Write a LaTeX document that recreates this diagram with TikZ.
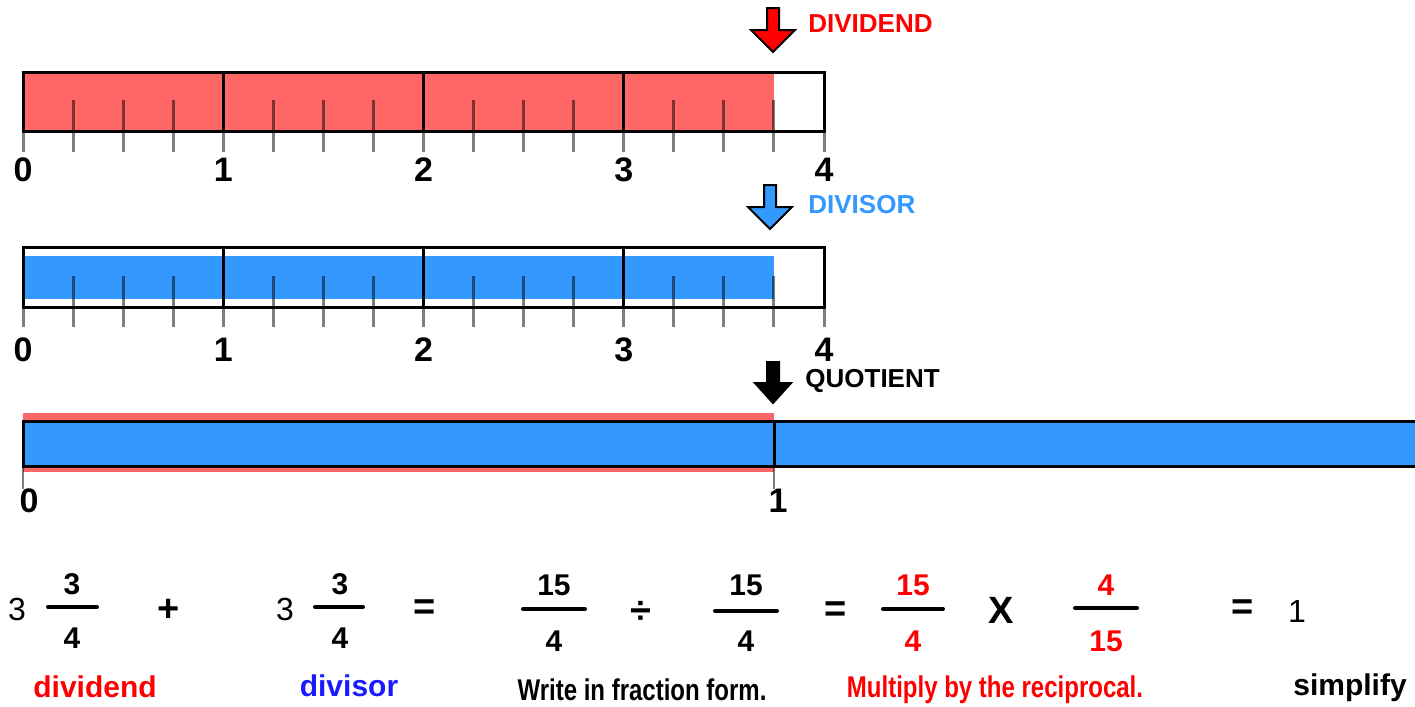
\documentclass[tikz,border=0pt]{standalone}
\usepackage{fontspec}
\setmainfont{Liberation Sans}
\newfontfamily\narrowsf[FakeStretch=0.8]{Liberation Sans}
\usepackage{tikz}
\definecolor{barred}{HTML}{FF6666}
\definecolor{barblue}{HTML}{3399FF}
\definecolor{txtred}{HTML}{FF0000}
\definecolor{txtblue}{HTML}{1A1AFF}

\begin{document}
\begin{tikzpicture}[x=0.5pt, y=-0.5pt,
  every node/.style={inner sep=0pt, font=\bfseries\fontsize{17}{19}\selectfont},
  barline/.style={line width=1.5pt},
  tickline/.style={draw=black, draw opacity=0.5, line width=1.5pt},
  blockarrow/.style={draw=black, line width=1pt},
  fracbar/.style={line width=2pt, line cap=round},
  opfont/.style={font=\bfseries\fontsize{19}{21}\selectfont},
  fracfont/.style={font=\bfseries\fontsize{15}{17}\selectfont},
  plainfont/.style={font=\fontsize{16}{18}\selectfont},
  notefont/.style={font=\bfseries\fontsize{15}{17}\selectfont},
  narrowfont/.style={font=\narrowsf\bfseries\fontsize{15}{17}\selectfont},
  headfont/.style={font=\bfseries\fontsize{13}{15}\selectfont}]
\useasboundingbox (0,0) rectangle (1415,707);

% dividend bar
\filldraw[blockarrow, fill=red] (773,8) ++(-6,0) -- ++(12,0) -- ++(0,22) -- ++(16,0) -- ++(-22,22) -- ++(-22,-22) -- ++(16,0) -- cycle;
\node[headfont, text=txtred, anchor=west] (hdividend) at (808,24) {DIVIDEND};
\fill[barred] (23,72) rectangle (774,131);
\foreach \i in {0,...,16} \draw[tickline] ({23+50.0625*\i},100) -- ({23+50.0625*\i},152);
\draw[barline] (23,72) rectangle (824,131);
\foreach \k in {1,2,3} \draw[barline] ({23+200.25*\k},72) -- ({23+200.25*\k},131);
\foreach \k in {0,...,4} \node (da\k) at ({23+200.25*\k},170) {\k};

% divisor bar
\filldraw[blockarrow, fill=barblue] (770,185) ++(-6,0) -- ++(12,0) -- ++(0,22) -- ++(16,0) -- ++(-22,22) -- ++(-22,-22) -- ++(16,0) -- cycle;
\node[headfont, text=barblue, anchor=west] (hdivisor) at (808,205) {DIVISOR};
\fill[barblue] (23,256) rectangle (774,299);
\foreach \i in {0,...,16} \draw[tickline] ({23+50.0625*\i},276) -- ({23+50.0625*\i},327);
\draw[barline] (23,247) rectangle (824,307);
\foreach \k in {1,2,3} \draw[barline] ({23+200.25*\k},247) -- ({23+200.25*\k},307);
\foreach \k in {0,...,4} \node (db\k) at ({23+200.25*\k},350) {\k};

% quotient bar
\filldraw[blockarrow, fill=black] (773,362) ++(-6,0) -- ++(12,0) -- ++(0,21) -- ++(12,0) -- ++(-18,20) -- ++(-18,-20) -- ++(12,0) -- cycle;
\node[headfont, anchor=west] (hquotient) at (805,381) {QUOTIENT};
\fill[barred] (23,413) rectangle (774,472);
\filldraw[barline, fill=barblue] (23,421) rectangle (1418,466);
\draw[barline] (774,421) -- (774,466);
\draw[tickline, line width=1pt] (23,466) -- (23,489);
\draw[tickline, line width=1pt] (774,466) -- (774,489);
\node (dq0) at (29,501) {0};
\node (dq1) at (778,501) {1};

% equation
\node[plainfont] (whA) at (17,609) {3};
\node[fracfont] (nA) at (72,584) {3};
\draw[fracbar] (48,607) -- (97,607);
\node[fracfont] (dA) at (72,638) {4};
\node[opfont] (plus) at (169,610) {+};
\node[plainfont] (whB) at (285,609) {3};
\node[fracfont] (nB) at (340,584) {3};
\draw[fracbar] (315,607) -- (363,607);
\node[fracfont] (dB) at (340,638) {4};
\node[opfont] (eqA) at (425,610) {=};
\node[fracfont] (nC) at (554,585) {15};
\draw[fracbar] (523,609) -- (585,609);
\node[fracfont] (dC) at (554,641) {4};
\node[opfont] (divide) at (641,612) {÷};
\node[fracfont] (nD) at (746,585) {15};
\draw[fracbar] (715,611) -- (777,611);
\node[fracfont] (dD) at (746,641) {4};
\node[opfont] (eqB) at (836,612) {=};
\node[fracfont, text=txtred] (nE) at (913,585) {15};
\draw[fracbar] (883,609) -- (943,609);
\node[fracfont, text=txtred] (dE) at (913,641) {4};
\node[opfont] (times) at (1001,610) {X};
\node[fracfont, text=txtred] (nF) at (1106,585) {4};
\draw[fracbar] (1075,608) -- (1137,608);
\node[fracfont, text=txtred] (dF) at (1106,641) {15};
\node[opfont] (eqC) at (1243,610) {=};
\node[plainfont] (result) at (1297,611) {1};

% notes
\node[notefont, text=txtred] (ndividend) at (95,687) {dividend};
\node[notefont, text=txtblue] (ndivisor) at (349,686) {divisor};
\node[narrowfont] (nwrite) at (642,690) {Write in fraction form.};
\node[narrowfont, text=txtred] (nmult) at (995,690) {Multiply by the reciprocal.};
\node[notefont] (nsimplify) at (1350,688) {simplify};
\end{tikzpicture}
\end{document}
